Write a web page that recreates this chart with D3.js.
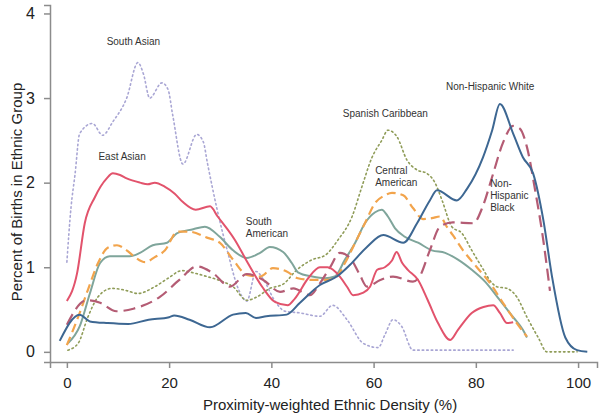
<!DOCTYPE html>
<html>
<head>
<meta charset="utf-8">
<script src="https://cdn.jsdelivr.net/npm/d3@7.9.0/dist/d3.min.js"></script>
<style>
  body { margin: 0; background: #fff; }
  svg { font-family: "Liberation Sans", Arial, sans-serif; }
  .axis path, .axis line { stroke: #8c8c8c; stroke-width: 1.5; }
  .axis text { font-size: 15px; fill: #222; }
  .lab { font-size: 10px; fill: #333; }
</style>
</head>
<body>
<svg id="chart" width="600" height="420"></svg>
<script>
// data: x = density (%), y = percent of births
const southAsianX = [0, 0.8, 1.6, 2.5, 5, 7, 9, 11.7, 13.9, 15, 16.2, 18.6, 19.8, 20.7, 22.7, 25.4, 26.7, 27.5, 29.4, 31.5, 33.5, 35.2, 37, 38.5, 40.7, 42.7, 45.6, 49.5, 52, 54.8, 58, 60.9, 62.2, 63.8, 65.5, 67.7, 75, 87.3];
const southAsianY = [1.06, 1.7, 2.1, 2.58, 2.7, 2.56, 2.72, 3.0, 3.42, 3.28, 3.0, 3.18, 3.1, 2.8, 2.22, 2.57, 2.48, 2.23, 1.68, 1.17, 0.75, 0.6, 0.95, 0.85, 0.6, 0.48, 0.46, 0.42, 0.55, 0.38, 0.1, 0.05, 0.2, 0.38, 0.3, 0.02, 0.02, 0.02];

const eastAsianX = [0, 2, 3.5, 5.5, 7.8, 9, 10.4, 11.7, 14.3, 15.8, 17.2, 19.2, 21.1, 22.7, 25.2, 28, 29.5, 32.9, 35.4, 38.2, 40.7, 43.2, 44.6, 47.2, 49.5, 51, 53.4, 54.8, 56, 58, 59.3, 60.7, 62.2, 63.6, 64.5, 65.6, 66.7, 68.7, 70.6, 72.6, 75, 76.5, 79.2, 81.5, 83.4, 84.7, 86.1, 87.3];
const eastAsianY = [0.6, 0.93, 1.52, 1.83, 2.05, 2.11, 2.09, 2.05, 2.0, 1.98, 2.0, 1.95, 1.87, 1.77, 1.68, 1.72, 1.6, 1.32, 1.05, 0.77, 0.59, 0.55, 0.63, 0.87, 1.0, 1.0, 0.89, 0.77, 0.67, 0.7, 0.77, 0.97, 1.0, 1.08, 1.18, 1.05, 0.97, 0.85, 0.61, 0.34, 0.14, 0.26, 0.46, 0.53, 0.55, 0.46, 0.34, 0.35];

const southAmericanX = [0.2, 2.5, 4.5, 6.5, 8.4, 12.3, 14.3, 16.8, 19.6, 21.5, 24.7, 27, 29.9, 32.5, 35.2, 37.8, 39.7, 42.3, 44, 45.2, 48, 50.5, 52.4, 54.4, 56.4, 58.3, 60.3, 61.6, 62.8, 64.2, 66.1, 68.7, 71.4, 74, 76.5, 79.2, 81.8, 84.7, 87.3, 89.2, 90];
const southAmericanY = [0.1, 0.3, 0.69, 1.05, 1.13, 1.13, 1.17, 1.26, 1.29, 1.4, 1.45, 1.48, 1.36, 1.2, 1.11, 1.17, 1.24, 1.18, 1.05, 0.94, 0.89, 0.87, 0.89, 1.09, 1.29, 1.52, 1.65, 1.68, 1.6, 1.46, 1.36, 1.29, 1.2, 1.17, 1.09, 0.97, 0.83, 0.61, 0.41, 0.26, 0.17];

const centralAmericanX = [0, 2.2, 4.1, 6.1, 8, 9.8, 11.7, 13.3, 15.3, 17.2, 19.2, 21.6, 24, 27.4, 29.9, 32.5, 35.2, 37.8, 40.3, 43, 45.2, 48, 50.5, 52.4, 54.4, 56.4, 58.3, 60.3, 62.2, 63.6, 65.8, 67.7, 69.7, 71.4, 73, 74.3, 75.5, 77.5, 80.2, 82.8, 85.3, 88, 90];
const centralAmericanY = [0.08, 0.41, 0.73, 1.05, 1.23, 1.26, 1.2, 1.12, 1.06, 1.12, 1.2, 1.42, 1.42, 1.35, 1.29, 1.09, 0.91, 0.89, 0.99, 0.95, 0.87, 0.85, 0.85, 0.87, 1.05, 1.29, 1.52, 1.76, 1.85, 1.88, 1.85, 1.7, 1.57, 1.58, 1.6, 1.48, 1.38, 1.2, 1.0, 0.81, 0.58, 0.34, 0.18];

const caribbeanX = [0.2, 2.2, 4.1, 6.1, 8.8, 11.3, 13.9, 17.2, 19.8, 22.5, 25, 27.4, 30.5, 32.5, 35.2, 37.2, 39.7, 42.3, 45, 48, 50.5, 53, 55.8, 57.7, 59.7, 61.6, 62.8, 64.6, 66.5, 68.5, 70.4, 72, 73.4, 75.3, 77.3, 79.2, 81.2, 83.2, 84.1, 86.1, 88, 90, 92.2, 93.9, 99.8];
const caribbeanY = [0.02, 0.1, 0.41, 0.65, 0.75, 0.73, 0.69, 0.77, 0.87, 0.96, 0.93, 0.89, 0.83, 0.77, 0.61, 0.65, 0.75, 0.8, 0.97, 1.09, 1.14, 1.32, 1.6, 1.95, 2.3, 2.5, 2.62, 2.54, 2.27, 2.15, 2.11, 2.0, 1.79, 1.48, 1.4, 1.2, 1.0, 0.81, 0.77, 0.75, 0.65, 0.41, 0.17, 0.0, 0.0];

const blackX = [0, 3.8, 6.5, 9.7, 13, 18.2, 22, 25.4, 28.6, 31.9, 35.2, 38.4, 41.7, 44.3, 47.5, 49.5, 51.5, 53.4, 55.4, 57.3, 58.7, 61.3, 63.8, 67.7, 69, 71, 73, 75.5, 79.5, 81.3, 83.2, 85.3, 87.3, 88.6, 90, 91.6, 93, 94.5];
const blackY = [0.32, 0.61, 0.58, 0.48, 0.51, 0.65, 0.85, 1.01, 0.93, 0.77, 0.92, 0.85, 0.71, 0.75, 0.67, 0.81, 1.0, 1.17, 1.11, 0.91, 0.77, 0.85, 0.89, 0.83, 0.89, 1.2, 1.48, 1.53, 1.52, 1.71, 2.07, 2.47, 2.67, 2.64, 2.42, 1.91, 1.4, 0.72];

const whiteX = [-1.4, 2.5, 4.5, 8, 12, 16, 20, 21, 24, 28, 32.5, 35, 37, 39, 43, 45.6, 49.5, 52.8, 55.4, 58.7, 61.9, 65.8, 68.5, 71, 72.4, 76.3, 78.3, 81.4, 83.2, 84.7, 87.3, 89.2, 91.2, 93.2, 94.9, 97.5, 99.8, 101.8];
const whiteY = [0.13, 0.44, 0.36, 0.34, 0.33, 0.38, 0.41, 0.43, 0.38, 0.29, 0.44, 0.46, 0.4, 0.42, 0.44, 0.58, 0.79, 0.89, 1.03, 1.24, 1.38, 1.29, 1.52, 1.79, 1.91, 1.79, 1.93, 2.3, 2.62, 2.93, 2.58, 2.3, 2.11, 1.56, 0.89, 0.17, 0.02, 0.0];

const xTicks = [0, 20, 40, 60, 80, 100];
const yTicks = [0, 1, 2, 3, 4];

const series = [
  { xs: southAsianX, ys: southAsianY, color: "#a9a6d4", width: 1.6, dash: "1.5,3" },
  { xs: caribbeanX, ys: caribbeanY, color: "#8f9c58", width: 1.6, dash: "1.5,3" },
  { xs: southAmericanX, ys: southAmericanY, color: "#7fa59b", width: 2 },
  { xs: centralAmericanX, ys: centralAmericanY, color: "#f2a44c", width: 2.2, dash: "9,5" },
  { xs: blackX, ys: blackY, color: "#b45c74", width: 2.2, dash: "12,6" },
  { xs: eastAsianX, ys: eastAsianY, color: "#e2536c", width: 2 },
  { xs: whiteX, ys: whiteY, color: "#3d6792", width: 2 }
];

const svg = d3.select("#chart");
const x = d3.scaleLinear().domain([-3.3, 103.7]).range([50, 597]);
const y = d3.scaleLinear().domain([-0.12, 4.1]).range([362, 5]);

svg.append("g")
  .attr("class", "axis")
  .attr("transform", "translate(0,362)")
  .call(d3.axisBottom(x).tickValues(xTicks).tickSizeOuter(0).tickSize(6).tickPadding(6))
  .selectAll("text").attr("dy", "0.9em");

svg.append("g")
  .attr("class", "axis")
  .attr("transform", "translate(50,0)")
  .call(d3.axisLeft(y).tickValues(yTicks).tickFormat(d3.format("d")).tickSizeOuter(0).tickSize(6).tickPadding(9))
  .selectAll("text").style("font-size", "16px");

const line = d3.line()
  .x(d => x(d[0]))
  .y(d => y(d[1]))
  .curve(d3.curveMonotoneX);

series.forEach(s => {
  const pts = s.xs.map((v, i) => [v, s.ys[i]]);
  svg.append("path")
    .attr("d", line(pts))
    .attr("fill", "none")
    .attr("stroke", s.color)
    .attr("stroke-width", s.width)
    .attr("stroke-linecap", s.dash && s.dash.startsWith("1.5") ? "round" : "butt")
    .attr("stroke-dasharray", s.dash || null);
});

// series labels
const labels = [
  { lines: ["South Asian"], px: 13, py: 3.63, anchor: "middle" },
  { lines: ["East Asian"], px: 10.8, py: 2.27, anchor: "middle" },
  { lines: ["South", "American"], px: 35, py: 1.5, anchor: "start" },
  { lines: ["Spanish Caribbean"], px: 62.3, py: 2.78, anchor: "middle" },
  { lines: ["Central", "American"], px: 60.3, py: 2.1, anchor: "start" },
  { lines: ["Non-Hispanic White"], px: 82.8, py: 3.1, anchor: "middle" },
  { lines: ["Non-", "Hispanic", "Black"], px: 82.8, py: 1.95, anchor: "start" }
];
labels.forEach(l => {
  const t = svg.append("text").attr("class", "lab")
    .attr("x", x(l.px)).attr("y", y(l.py))
    .attr("text-anchor", l.anchor);
  l.lines.forEach((s, i) => {
    t.append("tspan").attr("x", x(l.px)).attr("dy", i ? 12 : 0).text(s);
  });
});

svg.append("text")
  .attr("x", 330).attr("y", 410)
  .attr("text-anchor", "middle")
  .style("font-size", "15px").style("fill", "#222")
  .text("Proximity-weighted Ethnic Density (%)");

svg.append("text")
  .attr("transform", "translate(22,192) rotate(-90)")
  .attr("text-anchor", "middle")
  .style("font-size", "15px").style("fill", "#222")
  .text("Percent of Births in Ethnic Group");
</script>
</body>
</html>
